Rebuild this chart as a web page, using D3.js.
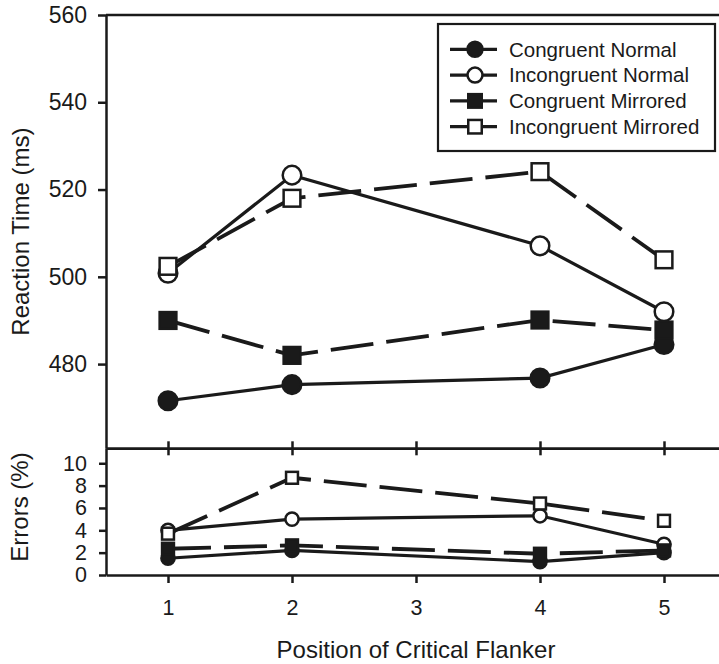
<!DOCTYPE html>
<html>
<head>
<meta charset="utf-8">
<script src="https://cdn.jsdelivr.net/npm/d3@7"></script>
<style>
  body { margin: 0; background: #fff; }
  svg { display: block; font-family: "Liberation Sans", Arial, Helvetica, sans-serif; }
  .axis path, .axis line { stroke: #1a1a1a; stroke-width: 2.5px; }
  .axis text { fill: #1a1a1a; }
</style>
</head>
<body>
<div id="chart"></div>
<script>
// flanker positions tested, and the tick labels on the x axis
const positions = [1, 2, 4, 5];
const xTicks = [1, 2, 3, 4, 5];
const rtTicks = [480, 500, 520, 540, 560];
const errTicks = [0, 2, 4, 6, 8, 10];

const seriesNames = ['Congruent Normal', 'Incongruent Normal', 'Congruent Mirrored', 'Incongruent Mirrored'];

// reaction times (ms)
const congNormalRT = [471.6, 475.3, 476.8, 484.5];
const incongNormalRT = [500.8, 523.3, 507.1, 492.0];
const congMirroredRT = [490.0, 482.0, 490.1, 487.8];
const incongMirroredRT = [502.4, 518.0, 524.1, 503.9];

// errors (%)
const congNormalErr = [1.5, 2.2, 1.2, 2.0];
const incongNormalErr = [4.0, 5.0, 5.3, 2.75];
const congMirroredErr = [2.35, 2.65, 1.9, 2.2];
const incongMirroredErr = [3.7, 8.7, 6.4, 4.85];

const width = 719, height = 664;
const ink = '#1a1a1a';

const svg = d3.select('#chart').append('svg')
    .attr('width', width)
    .attr('height', height);

const x = d3.scaleLinear().domain([0.5, 5.5]).range([106, 726]);
const yRT = d3.scaleLinear().domain([460.7, 560]).range([448.3, 15]);
const yErr = d3.scaleLinear().domain([0, 11.34]).range([575, 448.3]);

const styles = [
    { shape: 'circle', filled: true, dash: null },
    { shape: 'circle', filled: false, dash: null },
    { shape: 'square', filled: true, dash: '43,13' },
    { shape: 'square', filled: false, dash: '43,13' }
];

function drawMarker(g, st, cx, cy, r) {
    if (st.shape === 'circle') {
        g.append('circle')
            .attr('cx', cx).attr('cy', cy).attr('r', r)
            .attr('fill', st.filled ? ink : '#fff')
            .attr('stroke', ink).attr('stroke-width', 2.5);
    } else {
        const s = r * 1.8;
        g.append('rect')
            .attr('x', cx - s / 2).attr('y', cy - s / 2)
            .attr('width', s).attr('height', s)
            .attr('fill', st.filled ? ink : '#fff')
            .attr('stroke', ink).attr('stroke-width', 2.5);
    }
}

function drawPanel(seriesList, y, r) {
    const line = d3.line().x((d, i) => x(positions[i])).y(d => y(d));
    seriesList.forEach((vals, k) => {
        const st = styles[k];
        const g = svg.append('g');
        g.append('path')
            .attr('d', line(vals))
            .attr('fill', 'none')
            .attr('stroke', ink)
            .attr('stroke-width', st.dash ? 3.8 : 3.2)
            .attr('stroke-dasharray', st.dash);
        vals.forEach((v, i) => drawMarker(g, st, x(positions[i]), y(v), r));
    });
}

// top panel axes
svg.append('g').attr('class', 'axis')
    .attr('transform', `translate(${x.range()[0]},0)`)
    .call(d3.axisLeft(yRT).tickValues(rtTicks).tickSize(8).tickSizeOuter(0).tickPadding(11))
    .selectAll('text').style('font-size', '23px');

svg.append('line')
    .attr('x1', x.range()[0]).attr('x2', x.range()[1])
    .attr('y1', yRT(560)).attr('y2', yRT(560))
    .attr('stroke', ink).attr('stroke-width', 2.5);

// separator with ticks crossing it
svg.append('g').attr('class', 'axis')
    .attr('transform', `translate(0,${yRT.range()[0]})`)
    .call(d3.axisTop(x).tickValues(xTicks).tickSize(7).tickSizeOuter(0).tickFormat(''));
svg.append('g').attr('class', 'axis')
    .attr('transform', `translate(0,${yRT.range()[0]})`)
    .call(d3.axisBottom(x).tickValues(xTicks).tickSize(7).tickSizeOuter(0).tickFormat(''));

// bottom panel axes
svg.append('g').attr('class', 'axis')
    .attr('transform', `translate(${x.range()[0]},0)`)
    .call(d3.axisLeft(yErr).tickValues(errTicks).tickSize(7).tickSizeOuter(0).tickPadding(12))
    .selectAll('text').style('font-size', '21.5px');

svg.append('g').attr('class', 'axis')
    .attr('transform', `translate(0,${yErr(0)})`)
    .call(d3.axisBottom(x).tickValues(xTicks).tickSize(8).tickSizeOuter(0).tickPadding(17)
        .tickFormat(d3.format('d')))
    .selectAll('text').style('font-size', '21.5px');

// data
drawPanel([congNormalRT, incongNormalRT, congMirroredRT, incongMirroredRT], yRT, 9.3);
drawPanel([congNormalErr, incongNormalErr, congMirroredErr, incongMirroredErr], yErr, 6.6);

// axis titles
svg.append('text')
    .attr('transform', `translate(29,${(yRT.range()[0] + yRT.range()[1]) / 2}) rotate(-90)`)
    .attr('text-anchor', 'middle')
    .attr('fill', ink)
    .style('font-size', '24px')
    .text('Reaction Time (ms)');

svg.append('text')
    .attr('transform', `translate(28,507) rotate(-90)`)
    .attr('text-anchor', 'middle')
    .attr('fill', ink)
    .style('font-size', '24px')
    .text('Errors (%)');

svg.append('text')
    .attr('x', x(3)).attr('y', 658)
    .attr('text-anchor', 'middle')
    .attr('fill', ink)
    .style('font-size', '24px')
    .text('Position of Critical Flanker');

// legend
const legend = svg.append('g').attr('transform', 'translate(438,24)');
legend.append('rect')
    .attr('width', 277).attr('height', 127)
    .attr('fill', '#fff').attr('stroke', ink).attr('stroke-width', 2.2);

seriesNames.forEach((name, i) => {
    const cy = 25.3 + i * 25.8;
    const row = legend.append('g');
    row.append('line')
        .attr('x1', 12).attr('x2', 59)
        .attr('y1', cy).attr('y2', cy)
        .attr('stroke', ink).attr('stroke-width', 3.2);
    drawMarker(row, styles[i], 37, cy, 7.5);
    row.append('text')
        .attr('x', 71).attr('y', cy).attr('dy', '0.36em')
        .attr('fill', ink)
        .style('font-size', '20.5px')
        .text(name);
});
</script>
</body>
</html>
